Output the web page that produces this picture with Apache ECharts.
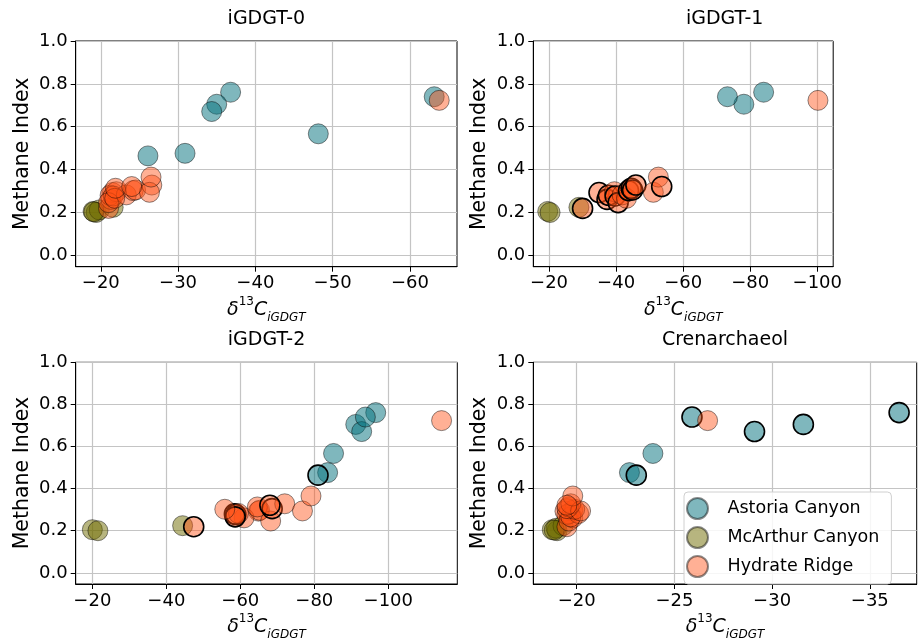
<!DOCTYPE html>
<html><head><meta charset="utf-8">
<script src="https://cdn.jsdelivr.net/npm/echarts@6/dist/echarts.min.js"></script>
<style>html,body{margin:0;padding:0;background:#fff}#c{width:919px;height:642px}</style>
</head><body><div id="c"></div>
<script>
// ---------------- data ----------------
const panelTitles = ['iGDGT-0', 'iGDGT-1', 'iGDGT-2', 'Crenarchaeol'];
const siteNames = ['Astoria Canyon', 'McArthur Canyon', 'Hydrate Ridge'];
const yTicks = [0.0, 0.2, 0.4, 0.6, 0.8, 1.0];
const xTicks_iGDGT0 = [-20, -30, -40, -50, -60];
const xTicks_iGDGT1 = [-20, -40, -60, -80, -100];
const xTicks_iGDGT2 = [-20, -40, -60, -80, -100];
const xTicks_cren = [-20, -25, -30, -35];

// Astoria Canyon
const astoriaMI = [0.761, 0.705, 0.671, 0.567, 0.476, 0.464, 0.740];
const astoria_iGDGT0 = [-36.8, -35.0, -34.35, -48.15, -30.9, -26.1, -63.15];
const astoria_iGDGT1 = [-84.0, -78.1, null, null, null, null, -73.2];
const astoria_iGDGT2 = [-96.6, -91.2, -92.8, -85.2, -83.6, -81.0, -93.8];
const astoria_cren = [-36.5, -31.6, -29.1, -23.9, -22.7, -23.05, -25.9];
const astoriaFlag_iGDGT0 = [0, 0, 0, 0, 0, 0, 0];
const astoriaFlag_iGDGT1 = [0, 0, 0, 0, 0, 0, 0];
const astoriaFlag_iGDGT2 = [0, 0, 0, 0, 0, 1, 0];
const astoriaFlag_cren = [1, 1, 1, 0, 0, 1, 1];

// McArthur Canyon
const mcarthurMI = [0.205, 0.200, 0.212, 0.224, 0.203];
const mcarthur_iGDGT0 = [-19.0, -19.4, -19.8, -21.6, -19.1];
const mcarthur_iGDGT1 = [-19.6, -20.3, null, -28.9, null];
const mcarthur_iGDGT2 = [-20.0, -21.5, null, -44.4, null];
const mcarthur_cren = [-18.75, -19.0, -18.95, -19.3, -18.85];
const mcarthurFlag = [0, 0, 0, 0, 0];

// Hydrate Ridge
const hydrateMI = [0.219, 0.293, 0.261, 0.280, 0.297, 0.277, 0.246, 0.282, 0.266, 0.302, 0.313, 0.305, 0.328, 0.294, 0.365, 0.321, 0.723];
const hydrate_iGDGT0 = [-21.0, -21.5, -21.3, -21.2, -22.0, -21.6, -21.0, -23.3, -21.8, -24.2, -21.9, -24.5, -26.6, -26.3, -26.5, -24.0, -63.8];
const hydrate_iGDGT1 = [-30.0, -34.9, -37.3, -37.7, -39.5, -39.7, -40.6, -41.8, -43.1, -43.7, -44.5, -44.9, -45.9, -51.1, -52.6, -53.6, -100.2];
const hydrate_iGDGT2 = [-47.4, -64.9, -61.0, -58.4, -65.2, -58.8, -68.2, -59.5, -58.6, -55.8, -64.6, -68.6, -72.0, -76.8, -79.1, -68.0, -114.4];
const hydrate_cren = [-19.5, -19.4, -19.8, -19.6, -19.8, -19.5, -19.6, -20.1, -19.7, -19.9, -19.6, -19.5, -19.7, -20.2, -19.8, -19.5, -26.7];
const hydrateFlag_iGDGT0 = [0,0,0,0,0,0,0,0,0,0,0,0,0,0,0,0,0];
const hydrateFlag_iGDGT1 = [1,1,1,1,0,1,1,0,0,1,1,1,1,0,0,1,0];
const hydrateFlag_iGDGT2 = [1,0,0,1,0,1,0,0,1,0,0,1,0,0,0,1,0];
const hydrateFlag_cren = [0,0,0,0,0,0,0,0,0,0,0,0,0,0,0,0,0];

// ---------------- layout / style ----------------
const FONT = 'DejaVu Sans';
const grids = [
  {left: 75.7, top: 41, width: 381.3, height: 225.7},
  {left: 533.3, top: 41, width: 382.7, height: 225.7},
  {left: 75.7, top: 362.3, width: 381.6, height: 225},
  {left: 533.3, top: 362.3, width: 383.4, height: 225}
];
const xRanges = [[-66.1, -16.75], [-104.75, -15.3], [-118.65, -15.5], [-37.4, -17.78]];
const xTickSets = [xTicks_iGDGT0, xTicks_iGDGT1, xTicks_iGDGT2, xTicks_cren];
const siteColors = ['rgba(0,112,124,0.5)', 'rgba(112,108,0,0.5)', 'rgba(255,80,20,0.45)'];

const siteData = [
  {mi: astoriaMI, xs: [astoria_iGDGT0, astoria_iGDGT1, astoria_iGDGT2, astoria_cren],
   flags: [astoriaFlag_iGDGT0, astoriaFlag_iGDGT1, astoriaFlag_iGDGT2, astoriaFlag_cren]},
  {mi: mcarthurMI, xs: [mcarthur_iGDGT0, mcarthur_iGDGT1, mcarthur_iGDGT2, mcarthur_cren],
   flags: [mcarthurFlag, mcarthurFlag, mcarthurFlag, mcarthurFlag]},
  {mi: hydrateMI, xs: [hydrate_iGDGT0, hydrate_iGDGT1, hydrate_iGDGT2, hydrate_cren],
   flags: [hydrateFlag_iGDGT0, hydrateFlag_iGDGT1, hydrateFlag_iGDGT2, hydrateFlag_cren]}
];

const minus = v => String(v).replace('-', '\u2212');

const xAxes = [], yAxes = [], series = [], graphics = [];
grids.forEach((g, i) => {
  xAxes.push({
    type: 'value', gridIndex: i, inverse: true,
    min: xRanges[i][0], max: xRanges[i][1],
    axisLine: {show: true, onZero: false, lineStyle: {color: '#000', width: 1}},
    axisTick: {show: true, length: 5, lineStyle: {color: '#000'}, customValues: xTickSets[i]},
    axisLabel: {customValues: xTickSets[i], formatter: minus, color: '#000', fontSize: 18, fontFamily: FONT, margin: 8},
    splitLine: {show: true, lineStyle: {color: '#c4c4c4', width: 1.2}},
    name: '{d|\u03b4}{s|13}{c|C}{b|iGDGT}',
    nameLocation: 'middle', nameGap: 29,
    nameTextStyle: {
      color: '#000', fontFamily: FONT, fontSize: 19,
      rich: {
        d: {fontSize: 19, fontStyle: 'italic', fontFamily: FONT, color: '#000', lineHeight: 28},
        s: {fontSize: 12, fontFamily: FONT, color: '#000', verticalAlign: 'top', lineHeight: 28},
        c: {fontSize: 19, fontStyle: 'italic', fontFamily: FONT, color: '#000', lineHeight: 28},
        b: {fontSize: 12, fontStyle: 'italic', fontFamily: FONT, color: '#000', verticalAlign: 'bottom', lineHeight: 24}
      }
    }
  });
  yAxes.push({
    type: 'value', gridIndex: i, min: -0.053, max: 1.0,
    axisLine: {show: true, lineStyle: {color: '#000', width: 1}},
    axisTick: {show: true, length: 5, lineStyle: {color: '#000'}, customValues: yTicks},
    axisLabel: {customValues: yTicks, formatter: v => v.toFixed(1), color: '#000', fontSize: 18, fontFamily: FONT, margin: 8},
    splitLine: {show: true, lineStyle: {color: '#c4c4c4', width: 1.2}},
    name: 'Methane Index', nameLocation: 'middle', nameGap: 43,
    nameTextStyle: {color: '#000', fontSize: 20.5, fontFamily: FONT}
  });
  graphics.push({
    type: 'text', x: g.left + g.width / 2, y: g.top - 22,
    style: {text: panelTitles[i], fontSize: 19, fontFamily: FONT, fill: '#000', align: 'center', verticalAlign: 'middle'}
  });
  siteData.forEach((s, k) => {
    const data = [];
    s.xs[i].forEach((xv, j) => {
      if (xv === null) return;
      const item = {value: [xv, s.mi[j]]};
      if (s.flags[i][j]) item.itemStyle = {borderColor: '#000', borderWidth: 1.6};
      data.push(item);
    });
    series.push({
      type: 'scatter', name: siteNames[k], xAxisIndex: i, yAxisIndex: i,
      symbol: 'circle', symbolSize: 20, data: data,
      itemStyle: {color: siteColors[k], borderColor: 'rgba(0,0,0,0.45)', borderWidth: 1, opacity: 1},
      emphasis: {disabled: true}, animation: false
    });
  });
});

const chart = echarts.init(document.getElementById('c'), null, {renderer: 'canvas'});
chart.setOption({
  backgroundColor: '#fff',
  animation: false,
  grid: grids.map(g => Object.assign({show: true, borderColor: '#000', borderWidth: 1, backgroundColor: 'transparent', containLabel: false}, g)),
  xAxis: xAxes, yAxis: yAxes, series: series, graphic: graphics,
  legend: {
    data: siteNames, orient: 'vertical', left: 684, top: 492,
    icon: 'circle', itemWidth: 50, itemHeight: 21, itemGap: 6,
    padding: [5, 12, 6, 2],
    backgroundColor: 'rgba(255,255,255,0.85)', borderColor: '#d0d0d0', borderWidth: 1, borderRadius: 4,
    textStyle: {fontSize: 17.5, fontFamily: FONT, color: '#000'}
  }
});
</script></body></html>
